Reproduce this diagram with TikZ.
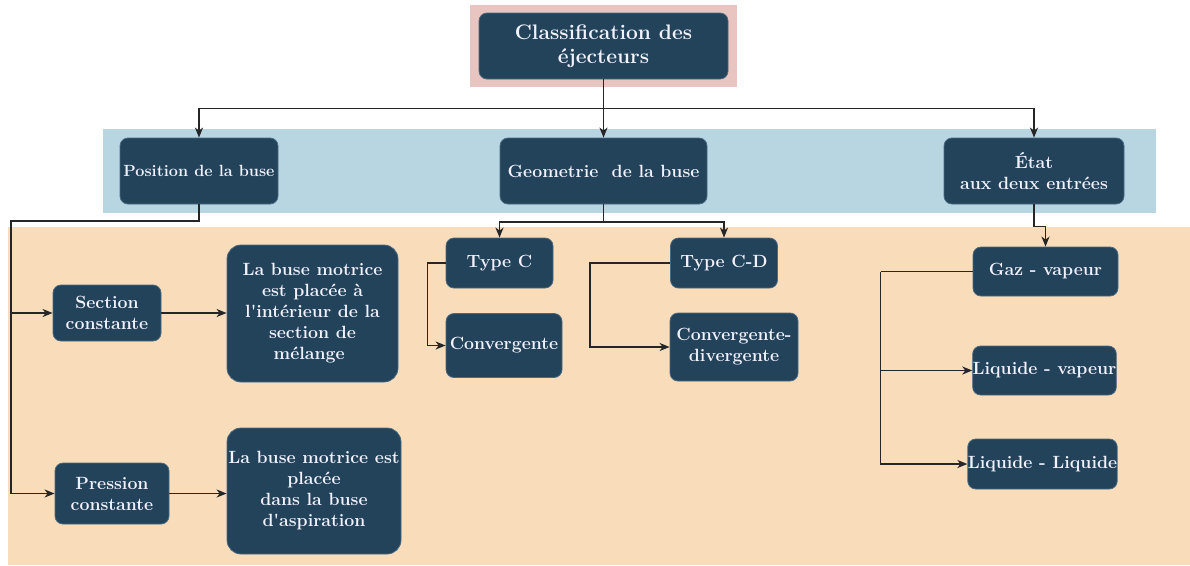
\documentclass[tikz,border=0pt]{standalone}
\usepackage{tikz}
\usetikzlibrary{positioning}
\usetikzlibrary{arrows.meta}

\definecolor{boite}{HTML}{23435B}
\definecolor{bordboite}{HTML}{4A6A82}
\definecolor{fondrose}{HTML}{E8C5C1}
\definecolor{fondbleu}{HTML}{B8D5E2}
\definecolor{fondpeche}{HTML}{F9DDBB}

\begin{document}
\begin{tikzpicture}[x=1pt, y=-1pt,
	boitebleue/.style={rounded corners=8pt, draw=bordboite, line width=0.8pt, fill=boite,
		text=white!95!blue, align=center, inner sep=0pt,
		font=\fontsize{17.7}{21}\selectfont\bfseries},
	trait/.style={line width=1.6pt, black!85},
	fleche/.style={trait, -{Stealth[length=10pt, width=8pt, inset=3pt]}}]

	% fonds
	\useasboundingbox (0,0) rectangle (1190,565);
	\fill[fondrose] (470,5) rectangle (737,87);
	\fill[fondbleu] (103,129) rectangle (1156,213);
	\fill[fondpeche] (8,227) rectangle (1190,565);

	% niveau 1
	\node [boitebleue, minimum width=249pt, minimum height=66pt,
		font=\fontsize{21}{24}\selectfont\bfseries] (titre) at (603.5,46) {Classification des\\éjecteurs};

	% niveau 2
	\node [boitebleue, minimum width=158pt, minimum height=66pt,
		font=\fontsize{16.2}{19}\selectfont\bfseries] (pos) at (199,171) {Position de la buse};
	\node [boitebleue, minimum width=207pt, minimum height=66pt] (geom) at (603.5,171) {Geometrie\ \ de la buse};
	\node [boitebleue, minimum width=180pt, minimum height=66pt] (etat) at (1034,171) {État\\aux deux entrées};

	% position de la buse
	\node [boitebleue, minimum width=108pt, minimum height=56pt] (sect) at (107,313) {Section\\constante};
	\node [boitebleue, minimum width=114pt, minimum height=61pt] (pres) at (112,493.5) {Pression\\constante};
	\node [boitebleue, rounded corners=14pt, minimum width=171pt, minimum height=137pt] (placea) at (312.5,313.5) {La buse motrice\\est placée à\\l\textquotesingle intérieur de la\\section de\\mélange\ \ };
	\node [boitebleue, rounded corners=14pt, minimum width=174pt, minimum height=126pt] (placeb) at (314,491) {La buse motrice est\\placée\\dans la buse\\d\textquotesingle aspiration};

	% geometrie de la buse
	\node [boitebleue, minimum width=107pt, minimum height=50pt] (typec) at (499.5,263) {Type C};
	\node [boitebleue, minimum width=107pt, minimum height=50pt] (typecd) at (724,263) {Type C-D};
	\node [boitebleue, minimum width=116pt, minimum height=64pt] (conv) at (504,345.5) {Convergente};
	\node [boitebleue, minimum width=128pt, minimum height=68pt] (convdiv) at (734,347) {Convergente-\\divergente};

	% etat aux deux entrees
	\node [boitebleue, minimum width=145pt, minimum height=49pt] (gaz) at (1045.5,271.5) {Gaz - vapeur};
	\node [boitebleue, minimum width=143pt, minimum height=49pt] (liqvap) at (1044.5,370.5) {Liquide - vapeur};
	\node [boitebleue, minimum width=147pt, minimum height=50pt] (liqliq) at (1042.5,464) {Liquide - Liquide};

	% liaisons
	\draw [fleche] (titre.south) -- ++(0,29) -| (pos.north);
	\draw [fleche] (titre.south) -- (geom.north);
	\draw [fleche] (titre.south) -- ++(0,29) -| (etat.north);

	\coordinate (tronc) at (11,221);
	\draw [fleche] (pos.south) |- (tronc) |- (pres.west);
	\draw [fleche] (tronc) |- (sect.west);
	\draw [fleche] (sect.east) -- (placea.west |- sect.east);
	\draw [fleche] (pres.east) -- (placeb.west |- pres.east);

	\coordinate (bgeom) at (603.5,222);
	\draw [trait] (geom.south) -- (bgeom);
	\draw [fleche] (bgeom) -| (typec.north);
	\draw [fleche] (bgeom) -| (typecd.north);
	\draw [fleche] (typec.west) -- ++(-18,0) |- (conv.west);
	\draw [fleche] (typecd.west) -- ++(-80,0) |- (convdiv.west);

	\draw [fleche] (etat.south) -- ++(0,22) -| (gaz.north);
	\draw [trait] (gaz.west) -- ++(-92,0) coordinate (tgaz);
	\draw [fleche] (tgaz) |- (liqvap.west);
	\draw [fleche] (tgaz) |- (liqliq.west);
\end{tikzpicture}
\end{document}
